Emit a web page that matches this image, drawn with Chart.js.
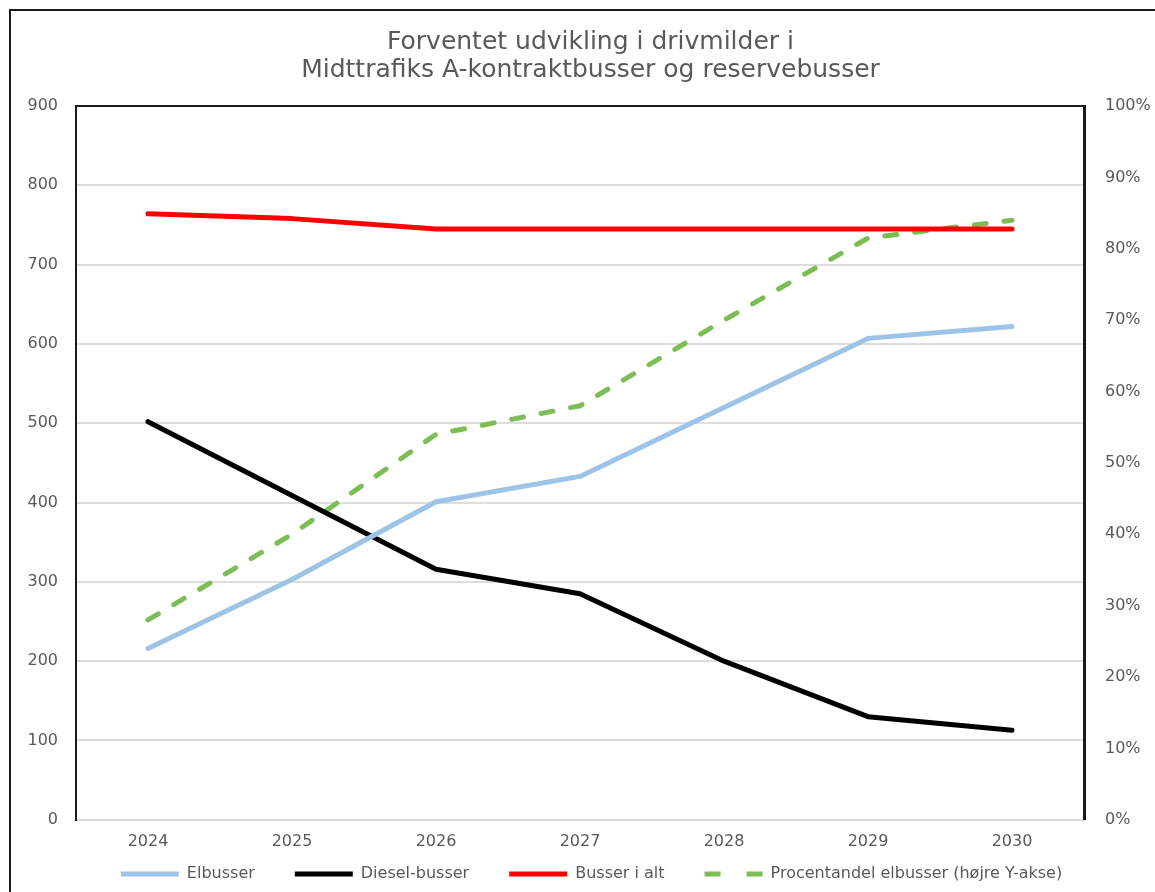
<!DOCTYPE html>
<html lang="da">
<head>
<meta charset="utf-8">
<title>Forventet udvikling i drivmidler</title>
<script src="https://cdn.jsdelivr.net/npm/chart.js@4.4.1/dist/chart.umd.min.js"></script>
<style>
    html, body { margin: 0; padding: 0; background: #fff; overflow: hidden; }
    #wrap { position: relative; width: 1155px; height: 892px; }
    #frame {
        position: absolute; left: 9px; top: 9px; width: 1300px; height: 1000px;
        border: 2px solid #1a1a1a; pointer-events: none;
    }
</style>
</head>
<body>
<div id="wrap">
    <canvas id="busChart" width="1155" height="892"></canvas>
    <div id="frame"></div>
</div>
<script>
// Data
const years = ['2024', '2025', '2026', '2027', '2028', '2029', '2030'];
const elbusser = [216, 303, 401, 433, 520, 607, 622];
const dieselBusser = [502, 409, 316, 285, 200, 130, 113];
const busserIAlt = [764, 758, 745, 745, 745, 745, 745];
const procentElbusser = [28, 40, 54, 58, 70, 81.5, 84]; // % (right axis)

const titleLines = ['Forventet udvikling i drivmilder i', 'Midttrafiks A-kontraktbusser og reservebusser'];

const FONT = 'DejaVu Sans';
const textColor = '#595959';
const gridColor = '#dedede';

// legend sits closer to the x labels than Chart.js allows with wide item padding
const LEGEND_LIFT = 37;
const LEGEND_SHIFT_X = 14;
const TITLE_SHIFT_X = 13;

const nudgeBoxes = {
    id: 'nudgeBoxes',
    afterLayout(chart) {
        const lg = chart.legend;
        lg.top -= LEGEND_LIFT;
        lg.bottom -= LEGEND_LIFT;
        lg.left += LEGEND_SHIFT_X;
        lg.right += LEGEND_SHIFT_X;
        const tb = chart.titleBlock;
        tb.left += TITLE_SHIFT_X;
        tb.right += TITLE_SHIFT_X;
    }
};

// plot box top edge (left/right come from the axis borders)
const topBorder = {
    id: 'topBorder',
    beforeDatasetsDraw(chart) {
        const { ctx, chartArea } = chart;
        ctx.save();
        ctx.strokeStyle = '#1a1a1a';
        ctx.lineWidth = 2;
        ctx.beginPath();
        ctx.moveTo(chartArea.left, chartArea.top);
        ctx.lineTo(chartArea.right, chartArea.top);
        ctx.stroke();
        ctx.restore();
    }
};

document.addEventListener('DOMContentLoaded', () => {
    const ctx = document.getElementById('busChart').getContext('2d');

    new Chart(ctx, {
        type: 'line',
        data: {
            labels: years,
            datasets: [
                {
                    label: 'Elbusser',
                    data: elbusser,
                    borderColor: '#9dc3e6',
                    backgroundColor: '#9dc3e6',
                    borderWidth: 5,
                    yAxisID: 'y'
                },
                {
                    label: 'Diesel-busser',
                    data: dieselBusser,
                    borderColor: '#000000',
                    backgroundColor: '#000000',
                    borderWidth: 5,
                    yAxisID: 'y'
                },
                {
                    label: 'Busser i alt',
                    data: busserIAlt,
                    borderColor: '#ff0000',
                    backgroundColor: '#ff0000',
                    borderWidth: 5,
                    yAxisID: 'y'
                },
                {
                    label: 'Procentandel elbusser (højre Y-akse)',
                    data: procentElbusser,
                    borderColor: '#7cbd56',
                    backgroundColor: '#7cbd56',
                    borderWidth: 5,
                    borderDash: [12, 18],
                    yAxisID: 'y1'
                }
            ]
        },
        options: {
            responsive: false,
            animation: false,
            devicePixelRatio: 1,
            layout: { padding: { top: 0, left: 0, right: 0, bottom: -LEGEND_LIFT } },
            elements: {
                point: { radius: 0, hoverRadius: 0 },
                line: { tension: 0, borderCapStyle: 'round', borderJoinStyle: 'round', fill: false }
            },
            plugins: {
                title: {
                    display: true,
                    text: titleLines,
                    color: textColor,
                    font: { family: FONT, size: 25, weight: 'normal', lineHeight: 1.12 },
                    padding: { top: 28, bottom: 22 }
                },
                legend: {
                    position: 'bottom',
                    labels: {
                        usePointStyle: true,
                        pointStyle: 'line',
                        pointStyleWidth: 58,
                        padding: 40,
                        color: textColor,
                        font: { family: FONT, size: 16 },
                        generateLabels(chart) {
                            const items = Chart.defaults.plugins.legend.labels.generateLabels(chart);
                            items[3].lineDash = [16, 26];
                            return items;
                        }
                    }
                },
                tooltip: { enabled: false }
            },
            scales: {
                x: {
                    offset: true,
                    grid: { display: false, drawTicks: false },
                    border: { color: gridColor, width: 2 },
                    ticks: {
                        color: textColor,
                        font: { family: FONT, size: 16 },
                        padding: 12
                    }
                },
                y: {
                    position: 'left',
                    min: 0,
                    max: 900,
                    grid: { color: gridColor, lineWidth: 2, drawTicks: false },
                    border: { color: '#1a1a1a', width: 2 },
                    ticks: {
                        stepSize: 100,
                        color: textColor,
                        font: { family: FONT, size: 16 },
                        padding: 18
                    },
                    afterFit: (scale) => { scale.width = 76; }
                },
                y1: {
                    position: 'right',
                    min: 0,
                    max: 100,
                    grid: { display: false, drawTicks: false },
                    border: { color: '#1a1a1a', width: 3 },
                    ticks: {
                        stepSize: 10,
                        color: textColor,
                        font: { family: FONT, size: 16 },
                        padding: 21,
                        callback: (v) => v + '%'
                    },
                    afterFit: (scale) => { scale.width = 71; }
                }
            }
        },
        plugins: [nudgeBoxes, topBorder]
    });
});
</script>
</body>
</html>
